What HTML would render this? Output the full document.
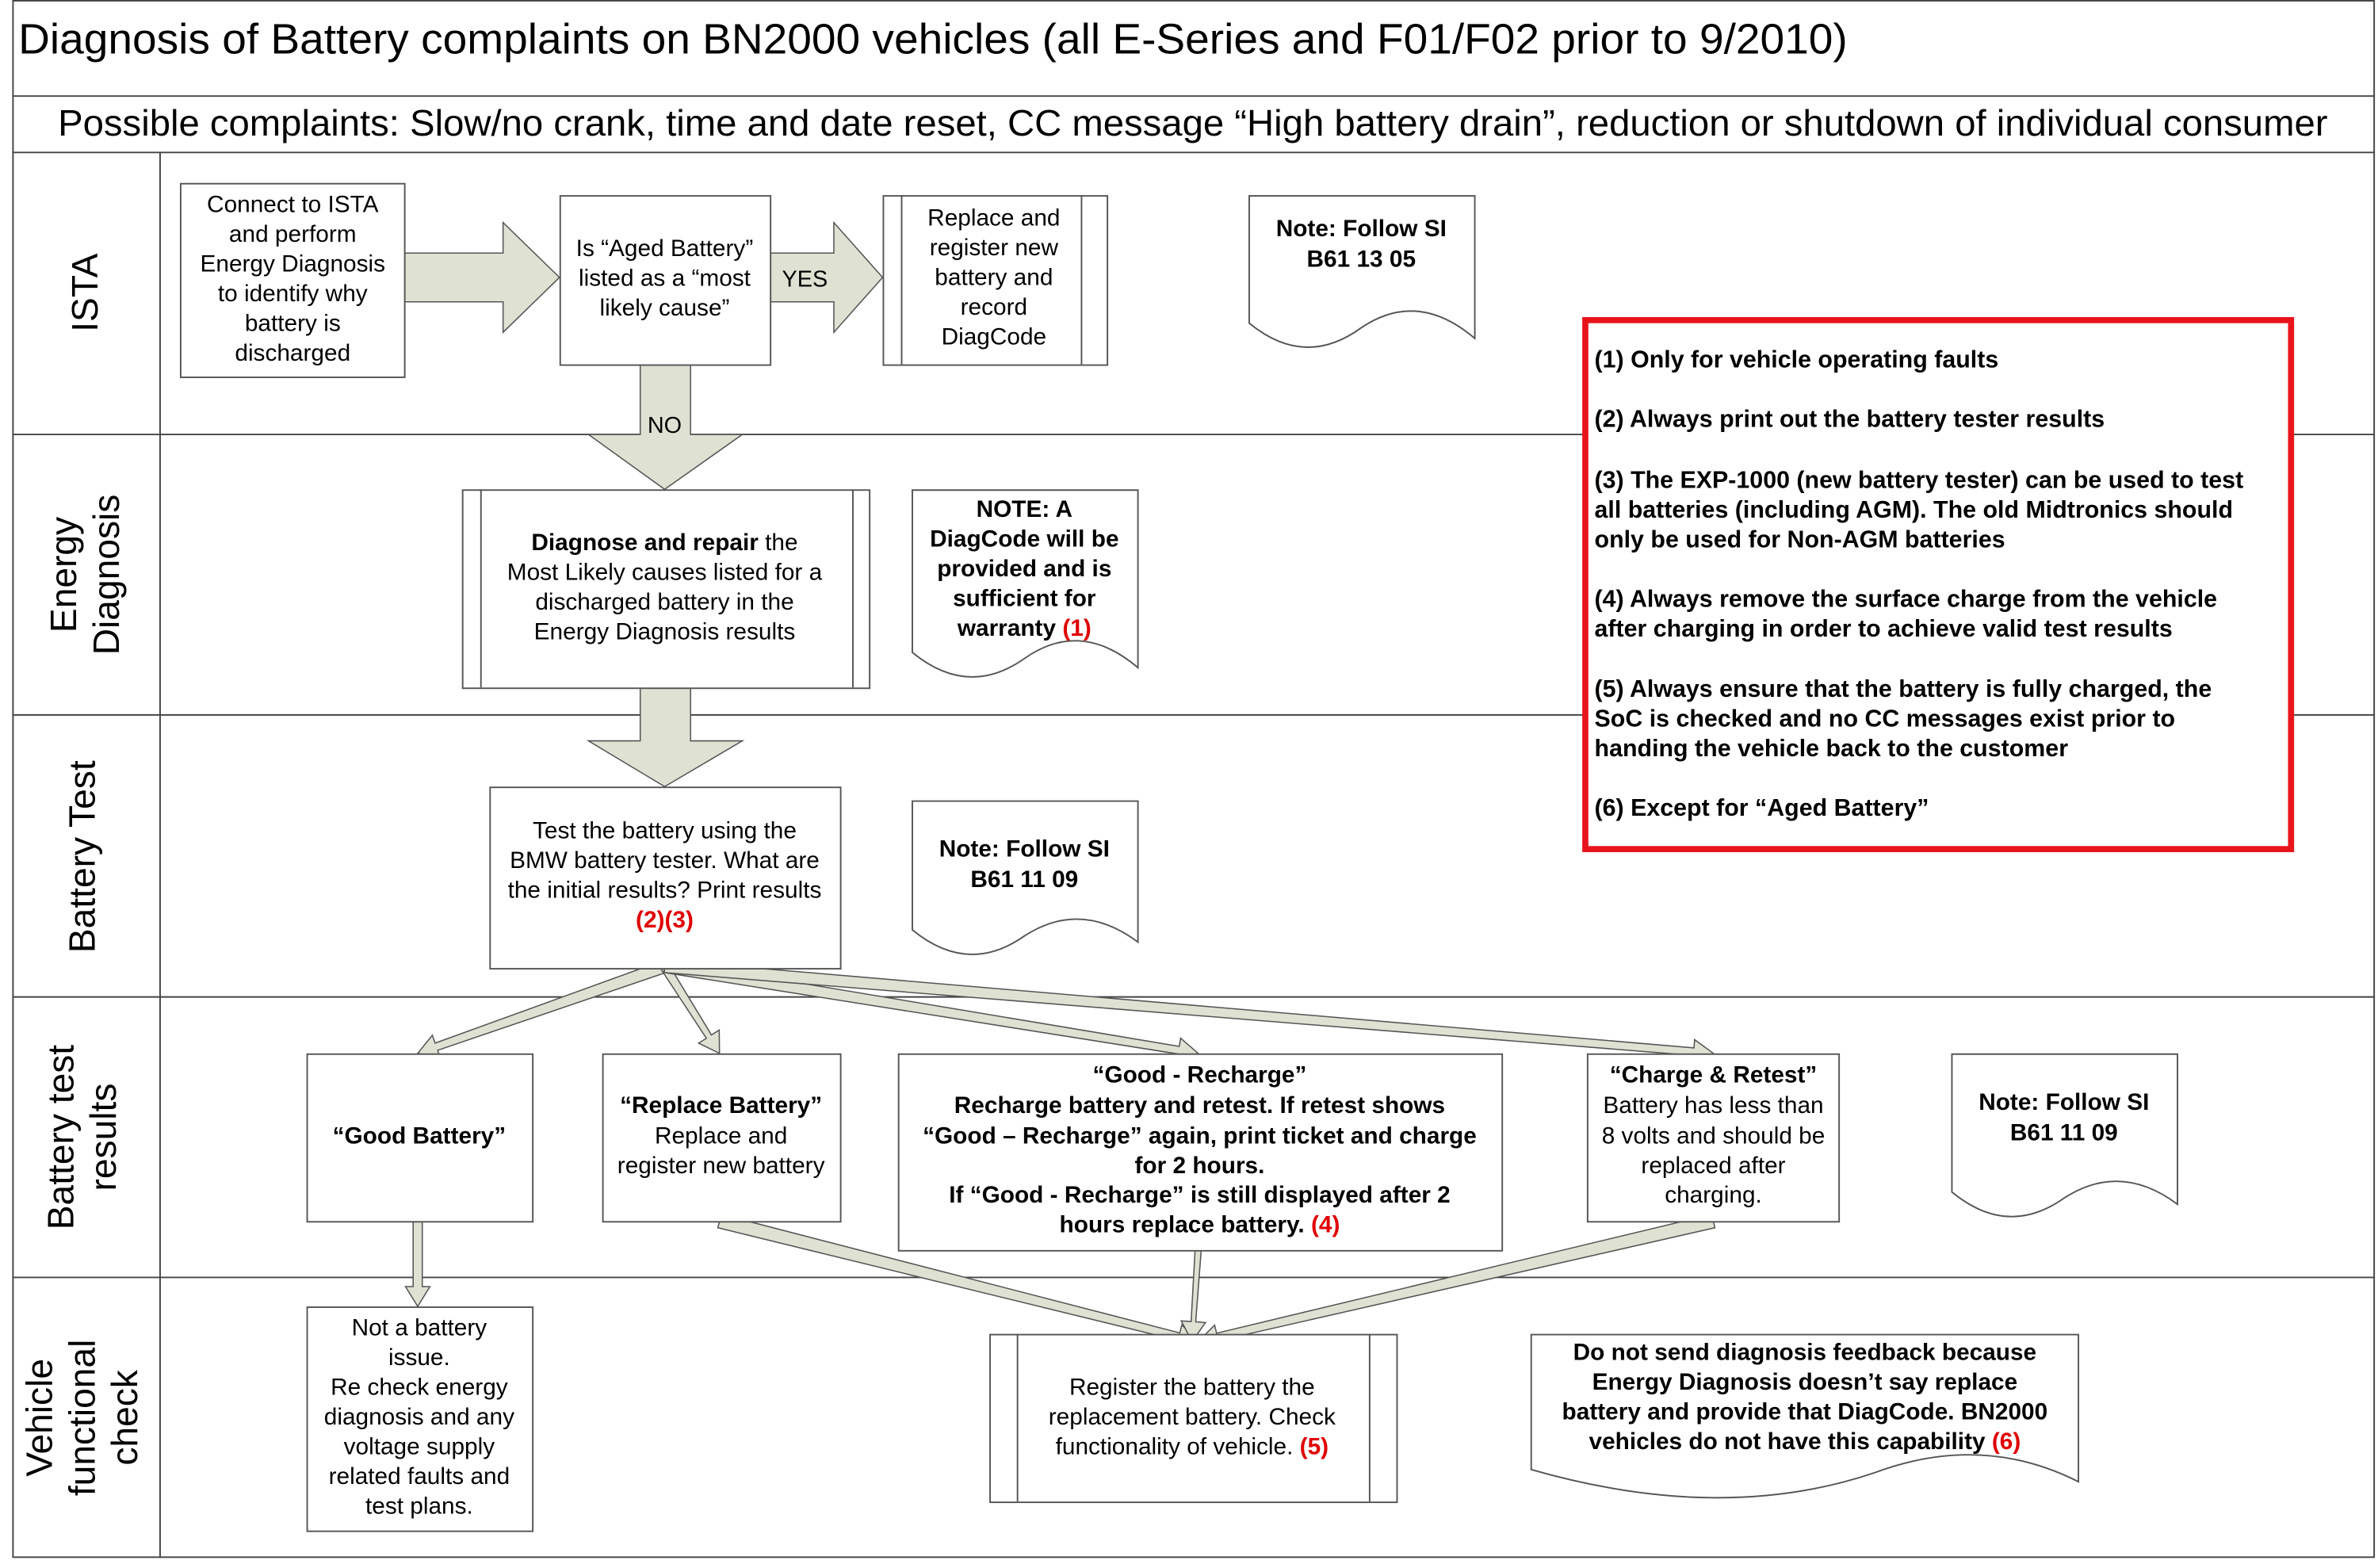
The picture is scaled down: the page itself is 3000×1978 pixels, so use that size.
<!DOCTYPE html>
<html><head><meta charset="utf-8"><style>
html,body{margin:0;padding:0;background:#fff;}
svg{display:block;}
text{font-family:"Liberation Sans",Arial,sans-serif;fill:#000;}
.b{font-weight:bold;}
.r{fill:#e00000;}
</style></head><body>
<svg id="s" width="3000" height="1978" viewBox="0 0 1560 1028.6" xmlns="http://www.w3.org/2000/svg">
<rect x="0" y="0" width="1560" height="1029" fill="#fff"/>
<g stroke="#444" stroke-width="1" fill="none">
<rect x="8.5" y="0.5" width="1549" height="1021"/>
<line x1="8" y1="63" x2="1558" y2="63"/>
<line x1="8" y1="100" x2="1558" y2="100"/>
<line x1="8" y1="285" x2="1558" y2="285"/>
<line x1="8" y1="469" x2="1558" y2="469"/>
<line x1="8" y1="654" x2="1558" y2="654"/>
<line x1="8" y1="838" x2="1558" y2="838"/>
<line x1="105" y1="100" x2="105" y2="1022"/>
</g>
<text x="12" y="35" font-size="28" textLength="1200" lengthAdjust="spacingAndGlyphs">Diagnosis of Battery complaints on BN2000 vehicles (all E-Series and F01/F02 prior to 9/2010)</text>
<text x="38" y="89" font-size="24" textLength="1489" lengthAdjust="spacingAndGlyphs">Possible complaints: Slow/no crank, time and date reset, CC message “High battery drain”, reduction or shutdown of individual consumer</text>

<g font-size="24" text-anchor="middle">
<text transform="translate(64,192) rotate(-90)">ISTA</text>
<text transform="translate(50,377) rotate(-90)">Energy</text>
<text transform="translate(78,377) rotate(-90)">Diagnosis</text>
<text transform="translate(62,562) rotate(-90)">Battery Test</text>
<text transform="translate(48,746) rotate(-90)">Battery test</text>
<text transform="translate(76,746) rotate(-90)">results</text>
<text transform="translate(34,930) rotate(-90)">Vehicle</text>
<text transform="translate(62,930) rotate(-90)">functional</text>
<text transform="translate(90,930) rotate(-90)">check</text>
</g>

<g fill="#dfe2d3" stroke="#555" stroke-width="0.8">
<polygon points="265,166 330,166 330,146 367,182 330,218 330,198 265,198"/>
<polygon points="505,166 547,166 547,146 579,182 547,218 547,198 505,198"/>
<polygon points="420,239 453,239 453,285 487,285 436,321 386,285 420,285"/>
<polygon points="420,451 453,451 453,486 487,486 436,516 386,486 420,486"/>
</g>
<text x="528" y="188" font-size="15" text-anchor="middle">YES</text>
<rect x="423" y="269" width="27" height="16" fill="#dfe2d3"/>
<text x="436" y="284" font-size="15" text-anchor="middle">NO</text>

<g id="thin" fill="#dfe2d3" stroke="#555" stroke-width="0.8"></g>

<g fill="#fff" stroke="#555" stroke-width="1">
<rect x="118.5" y="120.5" width="147" height="127"/>
<rect x="367.5" y="128.5" width="138" height="111"/>
<rect x="579.5" y="128.5" width="147" height="111"/>
<line x1="591.5" y1="128" x2="591.5" y2="239"/><line x1="709.5" y1="128" x2="709.5" y2="239"/>
<rect x="303.5" y="321.5" width="267" height="130"/>
<line x1="315.5" y1="321" x2="315.5" y2="451"/><line x1="559.5" y1="321" x2="559.5" y2="451"/>
<rect x="321.5" y="516.5" width="230" height="119"/>
<rect x="201.5" y="691.5" width="148" height="110"/>
<rect x="395.5" y="691.5" width="156" height="110"/>
<rect x="589.5" y="691.5" width="396" height="129"/>
<rect x="1041.5" y="691.5" width="165" height="110"/>
<rect x="201.5" y="857.5" width="148" height="147"/>
<rect x="649.5" y="875.5" width="267" height="110"/>
<line x1="667.5" y1="875" x2="667.5" y2="985"/><line x1="898.5" y1="875" x2="898.5" y2="985"/>
<path d="M819.5,128.5 H967.5 V222 Q930,190 893,215 Q856,242 819.5,212 Z"/>
<path d="M598.5,321.5 H746.5 V438 Q709,406 672,432 Q635,458 598.5,428 Z"/>
<path d="M598.5,525.5 H746.5 V618 Q709,590 672,614 Q635,640 598.5,610 Z"/>
<path d="M1280.5,691.5 H1428.5 V790 Q1391,762 1354,786 Q1317,812 1280.5,782 Z"/>
<path d="M1004.5,875.5 H1363.5 V972 Q1300,940 1230,966 Q1130,1000 1004.5,964 Z"/>
</g>
<rect x="1040" y="210" width="463" height="347" fill="#fff" stroke="#e8141b" stroke-width="4"/>

<g font-size="15.5" text-anchor="middle">
<text x="192" y="139">Connect to ISTA</text>
<text x="192" y="158.5">and perform</text>
<text x="192" y="178">Energy Diagnosis</text>
<text x="192" y="197.5">to identify why</text>
<text x="192" y="217">battery is</text>
<text x="192" y="236.5">discharged</text>
<text x="436" y="168">Is “Aged Battery”</text>
<text x="436" y="187.5">listed as a “most</text>
<text x="436" y="207">likely cause”</text>
<text x="652" y="148">Replace and</text>
<text x="652" y="167.5">register new</text>
<text x="652" y="187">battery and</text>
<text x="652" y="206.5">record</text>
<text x="652" y="226">DiagCode</text>
<text x="893" y="155" class="b">Note: Follow SI</text>
<text x="893" y="175" class="b">B61 13 05</text>
<text x="436" y="361"><tspan class="b">Diagnose and repair</tspan> the</text>
<text x="436" y="380.5">Most Likely causes listed for a</text>
<text x="436" y="400">discharged battery in the</text>
<text x="436" y="419.5">Energy Diagnosis results</text>
<text x="672" y="339" class="b">NOTE: A</text>
<text x="672" y="358.5" class="b">DiagCode will be</text>
<text x="672" y="378" class="b">provided and is</text>
<text x="672" y="397.5" class="b">sufficient for</text>
<text x="672" y="417" class="b">warranty  <tspan class="r">(1)</tspan></text>
<text x="436" y="550">Test the battery using the</text>
<text x="436" y="569.5">BMW battery tester. What are</text>
<text x="436" y="589">the initial results? Print results</text>
<text x="436" y="608.5" class="b r">(2)(3)</text>
<text x="672" y="562" class="b">Note: Follow SI</text>
<text x="672" y="582" class="b">B61 11 09</text>
<text x="275" y="750" class="b">“Good Battery”</text>
<text x="473" y="730" class="b">“Replace Battery”</text>
<text x="473" y="750">Replace and</text>
<text x="473" y="769.5">register new battery</text>
<text x="787" y="710" class="b">“Good - Recharge”</text>
<text x="787" y="730" class="b">Recharge battery and retest. If retest shows</text>
<text x="787" y="750" class="b">“Good – Recharge” again, print ticket and charge</text>
<text x="787" y="769.5" class="b">for 2 hours.</text>
<text x="787" y="789" class="b">If “Good - Recharge” is still displayed after 2</text>
<text x="787" y="808.5" class="b">hours replace battery.  <tspan class="r">(4)</tspan></text>
<text x="1124" y="710" class="b">“Charge &amp; Retest”</text>
<text x="1124" y="730">Battery has less than</text>
<text x="1124" y="750">8 volts and should be</text>
<text x="1124" y="769.5">replaced after</text>
<text x="1124" y="789">charging.</text>
<text x="1354" y="728" class="b">Note: Follow SI</text>
<text x="1354" y="748" class="b">B61 11 09</text>
<text x="275" y="876">Not a battery</text>
<text x="275" y="895.5">issue.</text>
<text x="275" y="915">Re check energy</text>
<text x="275" y="934.5">diagnosis and any</text>
<text x="275" y="954">voltage supply</text>
<text x="275" y="973.5">related faults and</text>
<text x="275" y="993">test plans.</text>
<text x="782" y="915">Register the battery the</text>
<text x="782" y="934.5">replacement battery. Check</text>
<text x="782" y="954">functionality of vehicle.  <tspan class="b r">(5)</tspan></text>
<text x="1184" y="892" class="b">Do not send diagnosis feedback because</text>
<text x="1184" y="911.5" class="b">Energy Diagnosis doesn’t say replace</text>
<text x="1184" y="931" class="b">battery and provide that DiagCode. BN2000</text>
<text x="1184" y="950.5" class="b">vehicles do not have this capability <tspan class="r">(6)</tspan></text>
</g>

<g font-size="15.8" class="b">
<text x="1046" y="241" class="b">(1) Only for vehicle operating faults</text>
<text x="1046" y="280" class="b">(2) Always print out the battery tester results</text>
<text x="1046" y="320" class="b">(3) The EXP-1000 (new battery tester) can be used to test</text>
<text x="1046" y="339.5" class="b">all batteries (including AGM). The old Midtronics should</text>
<text x="1046" y="359" class="b">only be used for Non-AGM batteries</text>
<text x="1046" y="398" class="b">(4) Always remove the surface charge from the vehicle</text>
<text x="1046" y="417.5" class="b">after charging in order to achieve valid test results</text>
<text x="1046" y="457" class="b">(5) Always ensure that the battery is fully charged, the</text>
<text x="1046" y="476.5" class="b">SoC is checked and no CC messages exist prior to</text>
<text x="1046" y="496" class="b">handing the vehicle back to the customer</text>
<text x="1046" y="535" class="b">(6) Except for “Aged Battery”</text>
</g>
</svg>
<script>
(function(){
var g=document.getElementById('thin');var ns='http://www.w3.org/2000/svg';
function arr(x1,y1,x2,y2,w1,w2){
 var dx=x2-x1,dy=y2-y1,L=Math.sqrt(dx*dx+dy*dy),ux=dx/L,uy=dy/L,px=-uy,py=ux;
 var hl=13,hw=8;var bx=x2-ux*hl,by=y2-uy*hl;
 var p=[[x1+px*w1,y1+py*w1],[bx+px*w2,by+py*w2],[bx+px*hw,by+py*hw],[x2,y2],[bx-px*hw,by-py*hw],[bx-px*w2,by-py*w2],[x1-px*w1,y1-py*w1]];
 var e=document.createElementNS(ns,'polygon');
 e.setAttribute('points',p.map(function(q){return q[0].toFixed(1)+','+q[1].toFixed(1)}).join(' '));
 g.appendChild(e);
}
arr(436,634,274,691,4,2.5);
arr(436,634,472,691,3,2);
arr(436,634,786,691,4,2.5);
arr(436,634,1124,691,4,2.5);
arr(274,801,274,857,3,3);
arr(472,801,786,880,4.5,2.5);
arr(786,820,782,880,2,1.5);
arr(1124,801,786,880,4.5,2.5);
})();
</script>
</body></html>
